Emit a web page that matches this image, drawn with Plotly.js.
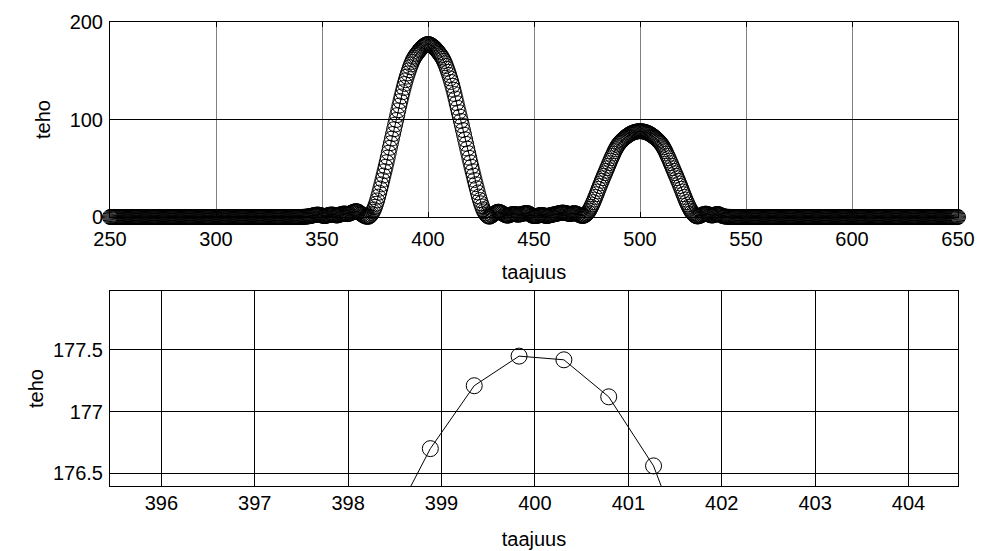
<!DOCTYPE html>
<html>
<head>
<meta charset="utf-8">
<script src="https://cdn.plot.ly/plotly-3.0.1.min.js"></script>
<style>html,body{margin:0;padding:0;background:#fff;}#chart{width:982px;height:551px;}</style>
</head>
<body>
<div id="chart"></div>
<script>
// Top subplot: power (teho) on a frequency grid (taajuus) 250..650, step 0.5
var taajuusStart = 250;
var taajuusStep = 0.5;
var teho = [
  0,0,0,0,0,0,0,0,0,0,0,0,0,0,0,0,0,0,0,0,   // 250
  0,0,0,0,0,0,0,0,0,0,0,0,0,0,0,0,0,0,0,0,   // 260
  0,0,0,0,0,0,0,0,0,0,0,0,0,0,0,0,0,0,0,0,   // 270
  0,0,0,0,0,0,0,0,0,0,0,0,0,0,0,0,0,0,0,0,   // 280
  0,0,0,0,0,0,0,0,0,0,0,0,0,0,0,0,0,0,0,0,   // 290
  0,0,0,0,0,0,0,0,0,0,0,0,0,0,0,0,0,0,0,0,   // 300
  0,0,0,0,0,0,0,0,0,0,0,0,0,0,0,0,0,0,0,0,   // 310
  0,0,0,0,0,0,0,0,0,0,0,0,0,0,0,0,0,0,0,0,   // 320
  0,0,0,0,0,0,0,0,0,0,0,0,0,0,0,0,0,0,0,0,   // 330
  0,0.1,0.2,0.25,0.3,0.4,0.5,0.65,0.8,1,1.2,1.5,1.8,2.1,2.3,2.45,2.5,2.4,2.2,1.9,              // 340
  1.5,1.2,1,1.05,1.2,1.6,2,2.3,2.5,2.55,2.5,2.3,2,1.7,1.5,1.7,2,2.5,3,3.3,                      // 350
  3.5,3.6,3.5,3.2,3,3.2,3.5,4,4.5,5,5.5,5.8,6,5.9,5.5,4.8,4,3.2,2.5,1.7,                        // 360
  1,0.6,0.3,0.2,0.3,0.9,2,3.5,5.5,7.8,10.5,13.6,17,20.9,25,29.2,33.5,38,42.5,47,               // 370
  51.5,56.2,61,66,71,75.8,80.5,85.2,90,94.8,99.5,104.5,109.5,114.3,119,123.6,128,132.3,136.5,140.3, // 380
  144,147.3,150.5,153.6,156.5,159.1,161.5,163.4,165.2,166.8,168.2,169.6,171,172.2,173.4,174.5,175.4,176.2,176.85,177.25, // 390
  177.46,177.3,176.88,176.25,175.5,174.65,173.7,172.6,171.4,170.1,168.7,167.3,165.8,164.1,162.3,160.1,157.7,154.9,152,148.9, // 400
  145.7,142.2,138.5,134.6,130.5,126.1,121.5,116.8,112,107.5,103,98.5,94,89.2,84.5,79.7,75,70.2,65.5,60.7, // 410
  56,51.5,47,42.5,38,33.7,29.5,25.2,21,17.4,14,10.9,8,5.7,3.8,2.3,1.2,0.6,0.3,0.7,              // 420
  1.5,2.2,3,3.8,4.5,5.1,5.5,5.4,5,4.5,4,3.2,2.5,1.9,1.5,1.4,1.5,2,2.5,2.8,                      // 430
  3,3.05,3,2.75,2.5,2.45,2.5,2.7,3,3.25,3.5,3.8,4,4.05,4,3.6,3,2.2,1.5,1.2,                     // 440
  1,0.95,1,1.2,1.5,1.8,2,2.05,2,1.8,1.5,1.2,1,1.2,1.5,1.75,2,2.25,2.5,2.75,                     // 450
  3,3.25,3.5,3.75,4,4.25,4.5,4.55,4.5,4.3,4,3.75,3.5,3.25,3,3.2,3.5,3.8,4,3.8,                  // 460
  3.5,3,2.5,2,1.5,1.2,1,1.3,1.8,2.6,3.6,5,6.6,8.5,10.6,12.9,15.3,17.9,20.6,23.4,                // 470
  26.2,29,31.8,34.5,37.2,39.8,42.4,44.9,47.4,50,52.6,55.2,57.8,60.3,62.7,65.1,67.5,69.6,71.6,73.3, // 480
  74.9,76.2,77.4,78.5,79.6,80.6,81.5,82.4,83.2,84,84.7,85.3,85.9,86.4,86.8,87.2,87.5,87.7,87.9,88, // 490
  88,88,87.9,87.7,87.5,87.2,86.8,86.4,85.9,85.3,84.7,84,83.2,82.4,81.5,80.6,79.6,78.5,77.4,76.2, // 500
  74.9,73.3,71.6,69.6,67.5,65.1,62.7,60.3,57.8,55.2,52.6,50,47.4,44.9,42.4,39.8,37.2,34.5,31.8,29, // 510
  26.2,23.4,20.6,17.9,15.3,12.9,10.6,8.5,6.6,5,3.6,2.5,1.5,0.9,0.5,0.7,1,1.5,2,2.5,            // 520
  3,3.3,3.5,3.3,3,2.5,2,1.7,1.5,1.7,2,2.5,3,3.1,3,2.5,2,1.5,1,0.7,                             // 530
  0.5,0.4,0.3,0.25,0.2,0.15,0.1,0.05,0,0,0,0,0,0,0,0,0,0,0,0,                                  // 540
  0,0,0,0,0,0,0,0,0,0,0,0,0,0,0,0,0,0,0,0,   // 550
  0,0,0,0,0,0,0,0,0,0,0,0,0,0,0,0,0,0,0,0,   // 560
  0,0,0,0,0,0,0,0,0,0,0,0,0,0,0,0,0,0,0,0,   // 570
  0,0,0,0,0,0,0,0,0,0,0,0,0,0,0,0,0,0,0,0,   // 580
  0,0,0,0,0,0,0,0,0,0,0,0,0,0,0,0,0,0,0,0,   // 590
  0,0,0,0,0,0,0,0,0,0,0,0,0,0,0,0,0,0,0,0,   // 600
  0,0,0,0,0,0,0,0,0,0,0,0,0,0,0,0,0,0,0,0,   // 610
  0,0,0,0,0,0,0,0,0,0,0,0,0,0,0,0,0,0,0,0,   // 620
  0,0,0,0,0,0,0,0,0,0,0,0,0,0,0,0,0,0,0,0,   // 630
  0,0,0,0,0,0,0,0,0,0,0,0,0,0,0,0,0,0,0,0,   // 640
  0                                          // 650
];

// Bottom subplot: zoom around the first peak
var zoomTaajuus = [398.40, 398.88, 399.35, 399.83, 400.31, 400.79, 401.27, 401.75];
var zoomTeho    = [176.00, 176.70, 177.21, 177.45, 177.42, 177.12, 176.56, 175.60];

// Tick labels
var topXTicks = [250, 300, 350, 400, 450, 500, 550, 600, 650];
var topYTicks = [0, 100, 200];
var botXTicks = [396, 397, 398, 399, 400, 401, 402, 403, 404];
var botYTicks = [176.5, 177, 177.5];

var taajuus = teho.map(function (_, i) { return taajuusStart + i * taajuusStep; });

var FONT = 'Liberation Sans, Arial, Helvetica, sans-serif';
var FS = 20;

var traceTop = {
  x: taajuus, y: teho, xaxis: 'x', yaxis: 'y',
  type: 'scatter', mode: 'lines+markers',
  line: {color: '#000', width: 1},
  marker: {symbol: 'circle-open', size: 15, color: '#000', line: {color: '#000', width: 1}},
  cliponaxis: false, hoverinfo: 'skip', showlegend: false
};
var traceBot = {
  x: zoomTaajuus, y: zoomTeho, xaxis: 'x2', yaxis: 'y2',
  type: 'scatter', mode: 'lines+markers',
  line: {color: '#000', width: 1},
  marker: {symbol: 'circle-open', size: 16, color: '#000', line: {color: '#000', width: 1}},
  cliponaxis: true, hoverinfo: 'skip', showlegend: false
};

function axisBase(extra) {
  var a = {
    showline: true, linecolor: '#000', linewidth: 1, mirror: 'ticks',
    ticks: 'inside', ticklen: 5, tickcolor: '#000', tickwidth: 1,
    showgrid: true, gridcolor: '#000', gridwidth: 1,
    zeroline: false, fixedrange: true,
    tickfont: {family: FONT, size: FS, color: '#000'}
  };
  for (var k in extra) a[k] = extra[k];
  return a;
}

var layout = {
  width: 982, height: 551,
  margin: {l: 110, r: 24, t: 22, b: 65, pad: 0},
  paper_bgcolor: '#fff', plot_bgcolor: '#fff',
  font: {family: FONT, size: FS, color: '#000'},
  showlegend: false,
  xaxis: axisBase({
    domain: [0, 1], anchor: 'y', range: [250, 650],
    tickmode: 'array', tickvals: topXTicks, ticktext: topXTicks.map(String),
    gridcolor: '#808080', ticklabelstandoff: 4,
    title: {text: 'taajuus', font: {family: FONT, size: FS, color: '#000'}, standoff: 15}
  }),
  yaxis: axisBase({
    domain: [0.5797, 1], anchor: 'x', range: [0, 200],
    tickmode: 'array', tickvals: topYTicks, ticktext: topYTicks.map(String),
    ticklabelstandoff: 2,
    title: {text: 'teho', font: {family: FONT, size: FS, color: '#000'}, standoff: 13}
  }),
  xaxis2: axisBase({
    domain: [0, 1], anchor: 'y2', range: [395.45, 404.53],
    tickmode: 'array', tickvals: botXTicks, ticktext: botXTicks.map(String),
    ticklabelstandoff: -1,
    title: {text: 'taajuus', font: {family: FONT, size: FS, color: '#000'}, standoff: 18}
  }),
  yaxis2: axisBase({
    domain: [0, 0.4203], anchor: 'x2', range: [176.397, 177.978],
    tickmode: 'array', tickvals: botYTicks, ticktext: botYTicks.map(String),
    ticklabelstandoff: 2,
    title: {text: 'teho', font: {family: FONT, size: FS, color: '#000'}, standoff: 3}
  })
};

Plotly.newPlot('chart', [traceTop, traceBot], layout, {displayModeBar: false, staticPlot: true});
</script>
</body>
</html>
